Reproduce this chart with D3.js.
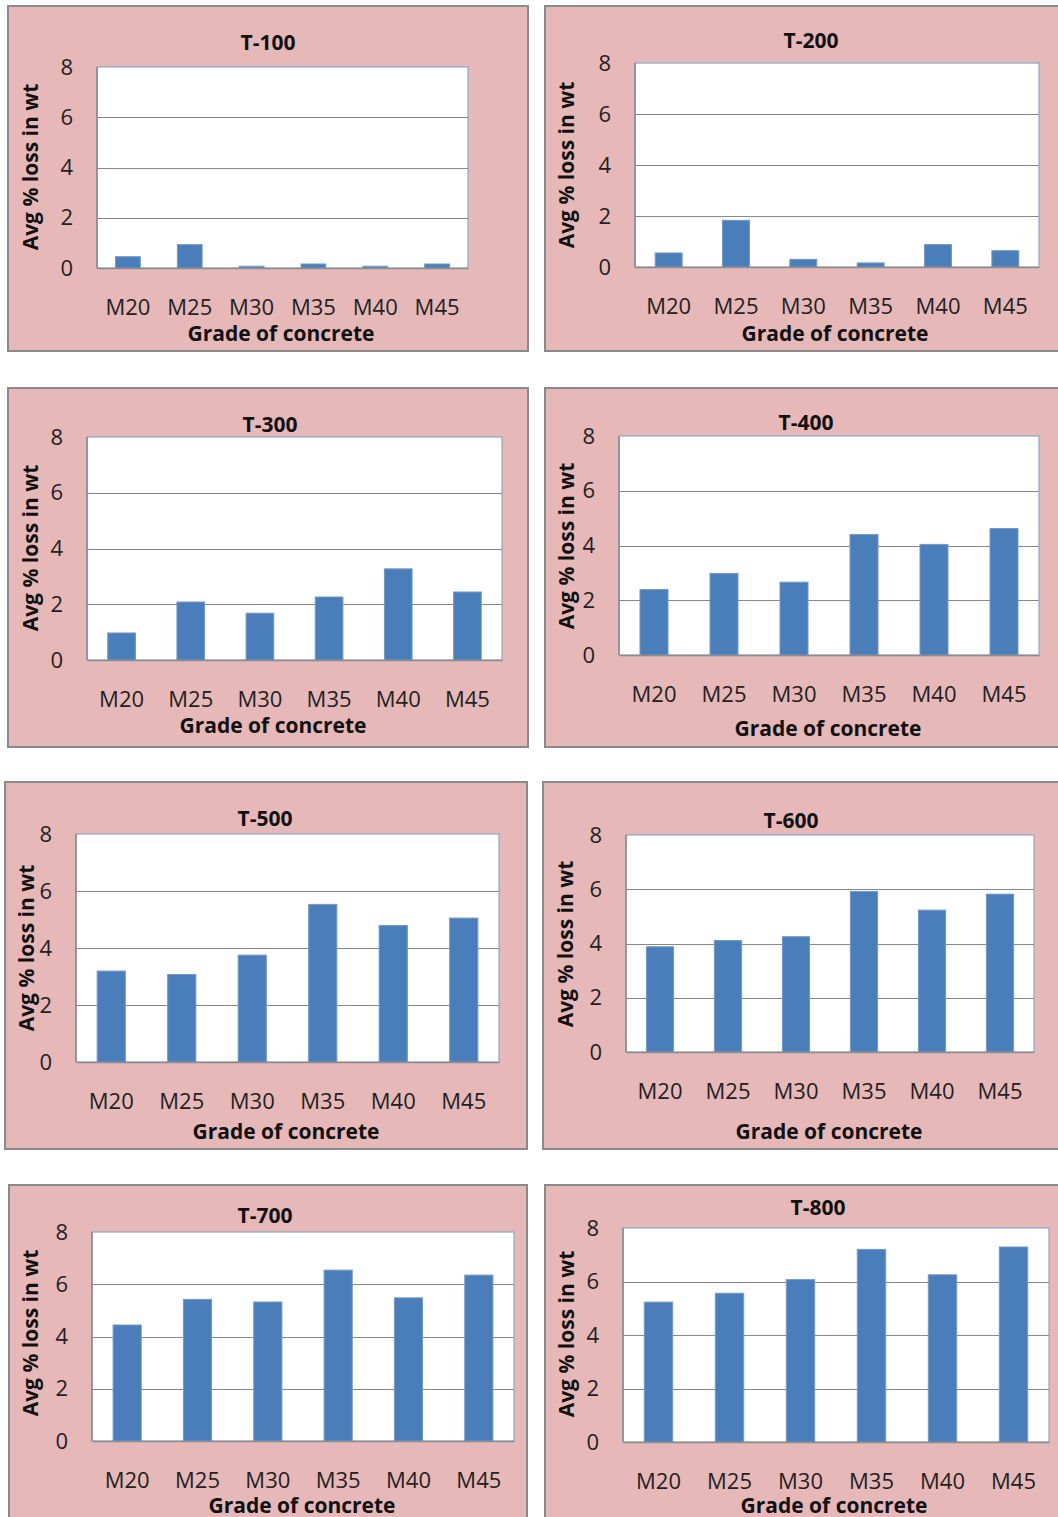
<!DOCTYPE html>
<html>
<head>
<meta charset="utf-8">
<script src="https://cdn.jsdelivr.net/npm/d3@7"></script>
<style>
  html, body { margin: 0; padding: 0; background: #ffffff; }
  svg { display: block; }
</style>
</head>
<body>
<svg id="chart" width="1058" height="1517"></svg>
<script>
// ---- data ----
const categories = ["M20", "M25", "M30", "M35", "M40", "M45"];
const chartTitles = ["T-100", "T-200", "T-300", "T-400", "T-500", "T-600", "T-700", "T-800"];
const yTickValues = [0, 2, 4, 6, 8];
const xAxisTitle = "Grade of concrete";
const yAxisTitle = "Avg % loss in wt";

const t100 = [0.45, 0.93, 0.07, 0.16, 0.07, 0.16];
const t200 = [0.55, 1.83, 0.30, 0.16, 0.88, 0.64];
const t300 = [0.97, 2.08, 1.68, 2.26, 3.27, 2.44];
const t400 = [2.39, 2.98, 2.66, 4.40, 4.04, 4.62];
const t500 = [3.19, 3.07, 3.75, 5.53, 4.79, 5.05];
const t600 = [3.88, 4.11, 4.25, 5.92, 5.23, 5.82];
const t700 = [4.44, 5.42, 5.32, 6.54, 5.48, 6.35];
const t800 = [5.23, 5.56, 6.07, 7.20, 6.25, 7.29];
const seriesList = [t100, t200, t300, t400, t500, t600, t700, t800];

// ---- layout (pixel boxes of each panel) ----
const layouts = [
  { outer: [8, 6, 528, 351],    plot: [97, 67, 468, 268],    title: [268, 42],   xt: [281, 334],  yt: [30, 167] },
  { outer: [545, 6, 1064, 351], plot: [635, 63, 1039, 267],  title: [811, 40],   xt: [835, 334],  yt: [566, 165] },
  { outer: [8, 388, 528, 747],  plot: [87, 437, 502, 660],   title: [270, 424],  xt: [273, 726],  yt: [30, 548] },
  { outer: [545, 388, 1064, 747], plot: [619, 436, 1039, 655], title: [806, 422], xt: [828, 729], yt: [566, 546] },
  { outer: [5, 782, 527, 1149], plot: [76, 834, 499, 1062],  title: [265, 818],  xt: [286, 1132], yt: [26, 948] },
  { outer: [543, 782, 1064, 1149], plot: [626, 835, 1034, 1052], title: [791, 820], xt: [829, 1132], yt: [565, 944] },
  { outer: [9, 1185, 527, 1530], plot: [92, 1232, 514, 1441], title: [265, 1215], xt: [302, 1506], yt: [30, 1333] },
  { outer: [545, 1185, 1064, 1530], plot: [623, 1228, 1049, 1442], title: [818, 1207], xt: [834, 1506], yt: [566, 1334] }
];

const FONT = "'Open Sans', 'Noto Sans', sans-serif";
const svg = d3.select("#chart");

seriesList.forEach((values, i) => {
  const L = layouts[i];
  const [ox0, oy0, ox1, oy1] = L.outer;
  const [px0, py0, px1, py1] = L.plot;
  const g = svg.append("g");

  // panel background
  g.append("rect")
    .attr("x", ox0).attr("y", oy0)
    .attr("width", ox1 - ox0).attr("height", oy1 - oy0)
    .attr("fill", "#e6b8b7")
    .attr("stroke", "#8a8a8a")
    .attr("stroke-width", 2);

  // plot area
  g.append("rect")
    .attr("x", px0).attr("y", py0)
    .attr("width", px1 - px0).attr("height", py1 - py0)
    .attr("fill", "#ffffff")
    .attr("stroke", "#8ea7cc")
    .attr("stroke-width", 1.2);

  const x = d3.scaleBand().domain(categories).range([px0, px1])
    .paddingInner(0.6).paddingOuter(0.3);
  const y = d3.scaleLinear().domain([0, 8]).range([py1, py0]);

  // y axis + gridlines
  const yAxis = g.append("g")
    .attr("transform", `translate(${px0},0)`)
    .call(d3.axisLeft(y).tickValues(yTickValues).tickSize(-(px1 - px0)).tickPadding(24).tickFormat(d3.format("d")));
  yAxis.select(".domain").remove();
  yAxis.selectAll(".tick line")
    .attr("stroke", d => d === 0 ? "none" : "#888888")
    .attr("stroke-width", 1)
    .attr("shape-rendering", "crispEdges")
    .filter(d => d === 8).attr("stroke", "none");
  yAxis.selectAll(".tick text")
    .attr("font-family", FONT)
    .attr("font-size", 22)
    .attr("fill", "#222222");

  // bars
  g.append("g").selectAll("rect")
    .data(values)
    .join("rect")
    .attr("x", (d, k) => x(categories[k]))
    .attr("y", d => y(d))
    .attr("width", x.bandwidth())
    .attr("height", d => y(0) - y(d))
    .attr("fill", "#4a7ebb")
    .attr("stroke", "#7398c8")
    .attr("stroke-width", 1);

  // axis lines (left and bottom, gray)
  g.append("line")
    .attr("x1", px0).attr("x2", px0).attr("y1", py0).attr("y2", py1)
    .attr("stroke", "#8c8c8c").attr("stroke-width", 1.6);

  const xAxis = g.append("g")
    .attr("transform", `translate(0,${py1})`)
    .call(d3.axisBottom(x).tickSize(0).tickPadding(0));
  xAxis.select(".domain").attr("stroke", "#8c8c8c").attr("stroke-width", 1.6);
  xAxis.selectAll(".tick text")
    .attr("font-family", FONT)
    .attr("font-size", 22)
    .attr("fill", "#222222")
    .attr("y", 39)
    .attr("dy", "0.36em");

  // chart title
  g.append("text")
    .attr("x", L.title[0]).attr("y", L.title[1])
    .attr("dy", "0.36em")
    .attr("text-anchor", "middle")
    .attr("font-family", FONT)
    .attr("font-weight", "bold")
    .attr("font-size", 21)
    .attr("fill", "#111111")
    .text(chartTitles[i]);

  // x axis title
  g.append("text")
    .attr("x", L.xt[0]).attr("y", L.xt[1])
    .attr("dy", "0.33em")
    .attr("text-anchor", "middle")
    .attr("font-family", FONT)
    .attr("font-weight", "bold")
    .attr("font-size", 21)
    .attr("fill", "#111111")
    .text(xAxisTitle);

  // y axis title
  g.append("text")
    .attr("transform", `translate(${L.yt[0]},${L.yt[1]}) rotate(-90)`)
    .attr("dy", "0.36em")
    .attr("text-anchor", "middle")
    .attr("font-family", FONT)
    .attr("font-weight", "bold")
    .attr("font-size", 21)
    .attr("fill", "#111111")
    .text(yAxisTitle);
});
</script>
</body>
</html>
